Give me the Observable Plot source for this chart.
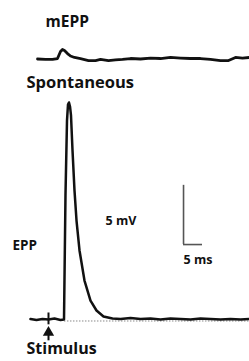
<!DOCTYPE html>
<html>
<head>
<meta charset="utf-8">
<script src="https://cdn.jsdelivr.net/npm/d3@7"></script>
<script src="https://cdn.jsdelivr.net/npm/@observablehq/plot@0.6"></script>
<style>
  html, body { margin: 0; padding: 0; background: #fff; }
  #chart svg { display: block; }
</style>
</head>
<body>
<div id="chart"></div>
<script>
// Time in ms (0 = stimulus), voltage in mV
const eppTime = [-4.74, -3.16, -1.58, 0, 1.58, 3.16, 4.08, 4.47, 4.87, 5.13, 5.39, 5.66, 5.92, 6.32, 6.84, 7.37, 8.16, 9.47, 11.05, 12.63, 14.47, 16.84, 18.95, 21.58, 24.21, 26.84, 29.47, 32.1, 34.74, 37.37, 40.0, 42.63, 45.26, 47.89, 50.53, 52.89];
const eppVolt = [0.04, -0.04, 0.04, 0, 0.08, -0.04, 0, 10.47, 16.8, 18.16, 18.33, 17.99, 17.23, 14.27, 10.9, 8.36, 5.83, 3.29, 1.6, 0.76, 0.25, 0.08, 0.04, 0.13, 0.04, 0.08, 0, 0.08, 0.04, 0, 0.08, 0.04, 0, 0.04, 0, 0.04];

const meppTime = [-2.89, -0.79, 1.05, 2.37, 3.16, 3.68, 4.21, 5.0, 5.79, 6.84, 8.42, 10.53, 12.37, 13.68, 15.79, 17.63, 19.47, 21.58, 24.21, 26.84, 29.47, 32.1, 34.74, 37.37, 40.0, 42.63, 45.26, 47.37, 49.21, 51.05, 52.89];
const meppVolt = [0, -0.04, -0.04, 0.04, 0.63, 0.80, 0.72, 0.46, 0.25, 0.13, 0.04, -0.13, -0.13, -0.04, -0.13, -0.08, -0.04, 0.04, 0, 0.08, 0.04, 0.13, 0.08, 0.04, 0.04, -0.04, -0.13, -0.13, 0.13, 0.08, 0.13];
const meppOffset = 22.0; // trace displayed above the EPP trace

const stimulusTime = [0];
const scaleBarMV = [5];
const scaleBarMS = [5];
const labels = ["mEPP", "Spontaneous", "EPP", "5 mV", "5 ms", "Stimulus"];

const epp = eppTime.map((t, i) => ({t, v: eppVolt[i]}));
const mepp = meppTime.map((t, i) => ({t, v: meppVolt[i] + meppOffset}));

const sbX = 35.53, sbY = 6.33;
const font = "'Open Sans', sans-serif";

const plot = Plot.plot({
  width: 249,
  height: 361,
  margin: 0,
  style: {background: "#fff", fontFamily: font},
  x: {domain: [-12.63, 52.89], axis: null},
  y: {domain: [-3.547, 26.94], axis: null},
  marks: [
    // dotted baseline
    Plot.ruleY([0], {x1: 4.2, x2: 52.89, dy: 1.5, stroke: "#888", strokeWidth: 1, strokeDasharray: "1.5,1.5"}),
    // mEPP trace
    Plot.line(mepp, {x: "t", y: "v", stroke: "#111", strokeWidth: 2.8, strokeLinejoin: "round", strokeLinecap: "round"}),
    // EPP trace
    Plot.line(epp, {x: "t", y: "v", stroke: "#111", strokeWidth: 2.5, strokeLinejoin: "round"}),
    // stimulus artifact tick
    Plot.ruleX(stimulusTime, {y1: -0.45, y2: 0.55, stroke: "#111", strokeWidth: 2}),
    // stimulus arrow
    Plot.ruleX(stimulusTime, {y1: -1.8, y2: -1.2, stroke: "#111", strokeWidth: 2}),
    Plot.dot(stimulusTime, {x: d => d, y: -1.1, symbol: "triangle", r: 4.2, fill: "#111", stroke: "none"}),
    // scale bar
    Plot.ruleX(scaleBarMV, {x: sbX, y1: sbY, y2: d => sbY + d, stroke: "#555", strokeWidth: 1.6}),
    Plot.ruleY(scaleBarMS, {y: sbY, x1: sbX, x2: d => sbX + d, stroke: "#555", strokeWidth: 1.6}),
    // labels
    Plot.text([labels[0]], {x: -0.79, y: 24.66, text: d => d, textAnchor: "start", lineAnchor: "bottom", fontSize: 15.5, fontWeight: 700, fill: "#111"}),
    Plot.text([labels[1]], {x: -5.79, y: 19.59, text: d => d, textAnchor: "start", lineAnchor: "bottom", fontSize: 16.5, fontWeight: 700, fill: "#111"}),
    Plot.text([labels[2]], {x: -9.47, y: 5.83, text: d => d, textAnchor: "start", lineAnchor: "bottom", fontSize: 13.5, fontWeight: 700, fill: "#111"}),
    Plot.text([labels[3]], {x: 15.0, y: 8.02, text: d => d, textAnchor: "start", lineAnchor: "bottom", fontSize: 12.5, fontWeight: 700, fill: "#111"}),
    Plot.text([labels[4]], {x: 35.53, y: 4.65, text: d => d, textAnchor: "start", lineAnchor: "bottom", fontSize: 12.5, fontWeight: 700, fill: "#111"}),
    Plot.text([labels[5]], {x: -5.79, y: -2.95, text: d => d, textAnchor: "start", lineAnchor: "bottom", fontSize: 16, fontWeight: 700, fill: "#111"})
  ]
});
document.getElementById("chart").appendChild(plot);
</script>
</body>
</html>
